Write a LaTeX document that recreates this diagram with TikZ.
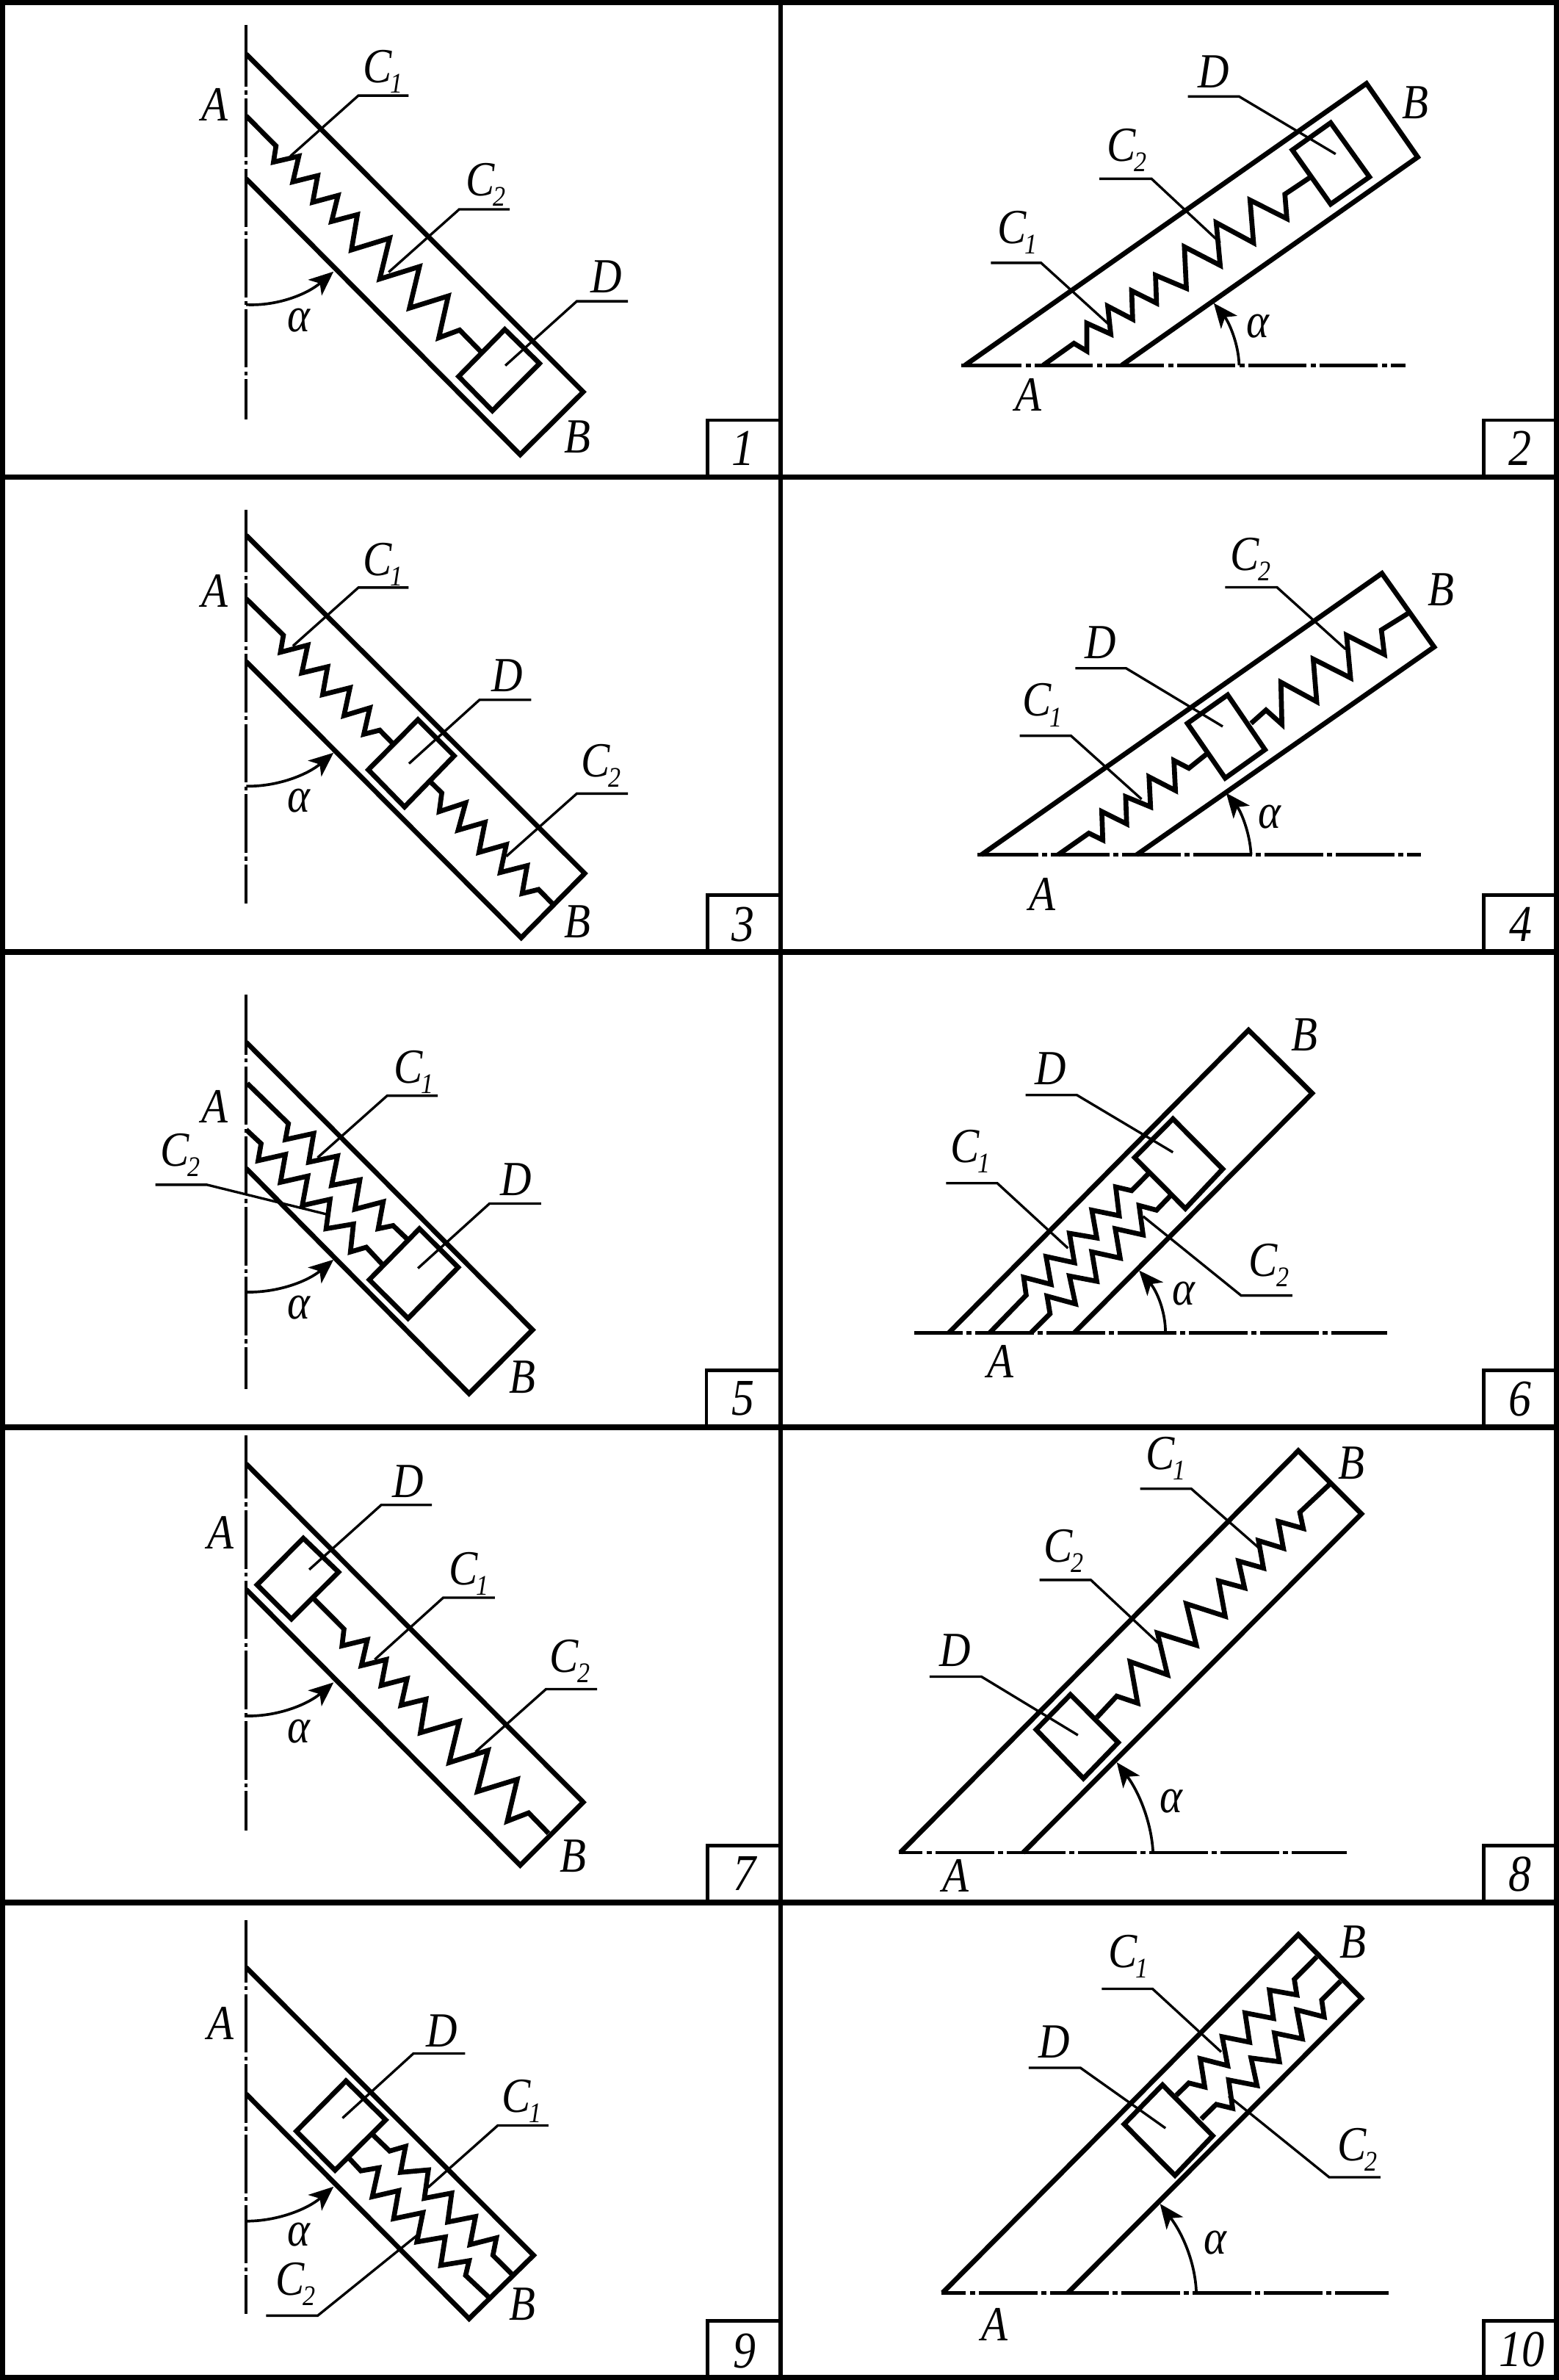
\documentclass[tikz,border=0pt]{standalone}
\usepackage{fontspec}
\setmainfont[FakeStretch=0.88]{Liberation Serif}
\usetikzlibrary{arrows.meta}
\newcommand\subf{\fontsize{11}{11}\selectfont\itshape}
\newcommand\Cs[1]{C\smash{\rlap{\hspace*{-0.6pt}\raisebox{-4pt}{\subf #1}}}}
\newcommand\lab[4]{\node[lab] (#1) at (#2,#3) {#4};}
\newcommand\vcl[3]{\draw[cl] (496,#1) -- (496,#2-12); \draw[cl,cldashv] (496,#2) -- (496,#3);}
\newcommand\hcl[4]{\draw[clh] (#2,#1) -- (#3-8,#1); \draw[clh,cldashh] (#3,#1) -- (#4,#1);}
\newcommand\numbox[3]{\draw[boxl] (#1,#3) |- (1568,#2);}
\tikzset{
  panel/.style n args={4}{shift={(#1 cm,-#2 cm)},x=#3 cm,y=-#4 cm},
  heavy/.style={line width=1.9pt,line join=miter,miter limit=10},
  lead/.style={line width=0.95pt},
  cl/.style={line width=1.05pt},
  clh/.style={line width=1.35pt},
  cldashv/.style={dash pattern=on 1.5pt off 1.5pt on 22.7pt off 1.5pt},
  cldashh/.style={dash pattern=on 2pt off 1.5pt on 22.6pt off 1.5pt},
  frameline/.style={line width=2.1pt},
  boxl/.style={line width=1.3pt},
  arc/.style={line width=1.05pt,-{Stealth[length=9.5pt,width=8pt,inset=2.5pt]}},
  lab/.style={inner sep=0pt,outer sep=0pt,font=\fontsize{19}{19}\selectfont\itshape},
  num/.style={inner sep=0pt,outer sep=0pt,font=\fontsize{20}{20}\selectfont\itshape}
}
\begin{document}
\begin{tikzpicture}
\useasboundingbox (0,0) rectangle (21.23,-32.40);
% ---------- 1
\begin{scope}[panel={0}{0}{0.00676}{0.004209}]
\vcl{80}{293}{1355}
\draw[heavy] (496,175)--(1175,1267)--(1048,1470)--(496,578);
\draw[heavy] (496,375)--(556,472)--(551,524)--(602,505)--(590,588)--(640,568)--(630,654)--(681,632)--(668,716)--(720,694)--(708,808)--(785,770)--(765,902)--(845,862)--(825,996)--(903,957)--(884,1092)--(926,1067)--(968,1136);
\draw[heavy] (1017,1065)--(1087,1175)--(992,1328)--(924,1217)--cycle;
\draw[lead] (823,309)--(722,309)--(585,505);
\draw[lead] (1027,677)--(925,677)--(783,880);
\draw[lead] (1265,974)--(1162,974)--(1018,1182);
\draw[arc] (496,985) .. controls (560,990) and (620,950) .. (672,878);
\lab{p1A}{433}{338}{A}\lab{p1C}{760}{215}{\Cs{1}}\lab{p1Cb}{967}{580}{\Cs{2}}\lab{p1D}{1222}{895}{D}\lab{p1B}{1163}{1413}{B}\lab{p1a}{602}{1035}{α}
\numbox{1425}{1358}{1540}\node[num] (p1n) at (1497,1450) {1};
\end{scope}
% ---------- 2
\begin{scope}[panel={10.60}{0}{0.00678}{0.004209}]
\hcl{1181}{368}{497}{1260}
\draw[heavy] (375,1181)--(1182,270)--(1285,508)--(690,1181);
\draw[heavy] (532,1181)--(594,1110)--(620,1135)--(620,1045)--(668,1080)--(662,990)--(712,1032)--(710,940)--(760,980)--(758,890)--(820,932)--(816,798)--(888,858)--(880,720)--(955,785)--(948,647)--(1022,707)--(1018,628)--(1070,572);
\draw[heavy] (1033,485)--(1110,397)--(1188,572)--(1110,660)--cycle;
\draw[lead] (427,850)--(528,850)--(665,1050);
\draw[lead] (645,578)--(750,578)--(888,785);
\draw[lead] (823,312)--(926,312)--(1120,498);
\draw[arc] (926,1181) .. controls (925,1110) and (905,1040) .. (875,980);
\lab{p2C}{470}{735}{\Cs{1}}\lab{p2Cb}{690}{470}{\Cs{2}}\lab{p2D}{875}{232}{D}\lab{p2B}{1280}{332}{B}\lab{p2A}{502}{1277}{A}\lab{p2a}{963}{1055}{α}
\numbox{1418}{1358}{1540}\node[num] (p2n) at (1490,1450) {2};
\end{scope}
% ---------- 3
\begin{scope}[panel={0}{6.50}{0.00676}{0.004209}]
\vcl{105}{318}{1378}
\draw[heavy] (496,187)--(1178,1280)--(1050,1488)--(496,595);
\draw[heavy] (496,392)--(571,510)--(565,565)--(620,542)--(608,632)--(660,612)--(650,702)--(705,680)--(693,770)--(745,745)--(733,830)--(765,817)--(790,858);
\draw[heavy] (842,783)--(915,900)--(815,1065)--(742,945)--cycle;
\draw[heavy] (868,985)--(890,1020)--(885,1080)--(938,1052)--(923,1140)--(977,1115)--(965,1212)--(1020,1187)--(1008,1277)--(1062,1255)--(1052,1345)--(1085,1332)--(1113,1378);
\draw[lead] (823,356)--(722,356)--(590,545);
\draw[lead] (1070,719)--(966,719)--(824,925);
\draw[lead] (1265,1022)--(1162,1022)--(1020,1225);
\draw[arc] (496,998) .. controls (560,1000) and (620,960) .. (672,890);
\lab{p3C}{760}{265}{\Cs{1}}\lab{p3A}{433}{367}{A}\lab{p3D}{1022}{640}{D}\lab{p3Cb}{1200}{917}{\Cs{2}}\lab{p3B}{1163}{1437}{B}\lab{p3a}{602}{1045}{α}
\numbox{1425}{1350}{1530}\node[num] (p3n) at (1497,1445) {3};
\end{scope}
% ---------- 4
\begin{scope}[panel={10.60}{6.50}{0.00678}{0.004209}]
\hcl{1220}{400}{530}{1292}
\draw[heavy] (408,1220)--(1213,310)--(1318,548)--(720,1220);
\draw[heavy] (562,1220)--(624,1150)--(652,1172)--(650,1080)--(700,1120)--(698,1032)--(748,1065)--(745,968)--(798,1012)--(795,915)--(825,940)--(860,895);
\draw[heavy] (822,795)--(903,703)--(978,880)--(898,972)--cycle;
\draw[heavy] (950,795)--(980,752)--(1012,798)--(1010,662)--(1082,725)--(1075,587)--(1150,648)--(1142,510)--(1218,572)--(1212,493)--(1265,440);
\draw[lead] (485,835)--(588,835)--(730,1040);
\draw[lead] (597,617)--(699,617)--(893,805);
\draw[lead] (898,355)--(1002,355)--(1140,555);
\draw[arc] (950,1220) .. controls (948,1150) and (930,1080) .. (900,1020);
\lab{p4C}{520}{720}{\Cs{1}}\lab{p4D}{648}{533}{D}\lab{p4Cb}{938}{248}{\Cs{2}}\lab{p4B}{1332}{362}{B}\lab{p4A}{530}{1347}{A}\lab{p4a}{987}{1098}{α}
\numbox{1418}{1350}{1530}\node[num] (p4n) at (1492,1445) {4};
\end{scope}
% ---------- 5
\begin{scope}[panel={0}{13.00}{0.00676}{0.004209}]
\vcl{128}{335}{1403}
\draw[heavy] (496,282)--(1073,1212)--(945,1418)--(496,690);
\draw[heavy] (498,415)--(581,545)--(575,597)--(632,577)--(622,670)--(680,650)--(668,745)--(725,727)--(715,822)--(772,798)--(762,885)--(792,875)--(820,918);
\draw[heavy] (496,565)--(526,610)--(520,665)--(575,645)--(565,735)--(620,715)--(609,810)--(665,790)--(657,885)--(712,870)--(706,960)--(738,945)--(770,1000);
\draw[heavy] (845,885)--(923,1010)--(822,1175)--(744,1050)--cycle;
\draw[lead] (882,455)--(780,455)--(640,655);
\draw[lead] (313,743)--(417,743)--(657,838);
\draw[lead] (1090,804)--(986,804)--(842,1013);
\draw[arc] (496,1090) .. controls (560,1092) and (620,1055) .. (672,985);
\lab{p5C}{822}{362}{\Cs{1}}\lab{p5A}{433}{490}{A}\lab{p5Cb}{352}{632}{\Cs{2}}\lab{p5D}{1040}{725}{D}\lab{p5B}{1053}{1365}{B}\lab{p5a}{602}{1140}{α}
\numbox{1423}{1343}{1522}\node[num] (p5n) at (1497,1435) {5};
\end{scope}
% ---------- 6
\begin{scope}[panel={10.60}{13.00}{0.00678}{0.004209}]
\hcl{1221}{273}{378}{1224}
\draw[heavy] (343,1221)--(945,243)--(1073,447)--(595,1221);
\draw[heavy] (425,1221)--(498,1100)--(493,1042)--(548,1065)--(538,975)--(595,995)--(585,900)--(640,915)--(630,825)--(685,843)--(678,750)--(710,762)--(745,705);
\draw[heavy] (508,1221)--(546,1160)--(540,1103)--(597,1128)--(585,1038)--(640,1055)--(630,960)--(687,980)--(677,885)--(733,905)--(725,810)--(760,825)--(790,775);
\draw[heavy] (793,530)--(893,692)--(818,820)--(716,655)--cycle;
\draw[lead] (497,453)--(600,453)--(793,638);
\draw[lead] (337,738)--(440,738)--(582,948);
\draw[lead] (1033,1101)--(930,1101)--(733,845);
\draw[arc] (778,1221) .. controls (778,1150) and (760,1085) .. (725,1020);
\lab{p6B}{1057}{258}{B}\lab{p6D}{547}{367}{D}\lab{p6C}{375}{618}{\Cs{1}}\lab{p6Cb}{975}{988}{\Cs{2}}\lab{p6A}{447}{1315}{A}\lab{p6a}{815}{1095}{α}
\numbox{1418}{1343}{1522}\node[num] (p6n) at (1490,1435) {6};
\end{scope}
% ---------- 7
\begin{scope}[panel={0}{19.50}{0.00676}{0.004145}]
\vcl{10}{230}{1305}
\draw[heavy] (496,103)--(1175,1213)--(1048,1420)--(496,515);
\draw[heavy] (611,347)--(682,458)--(587,612)--(518,500)--cycle;
\draw[heavy] (632,545)--(693,645)--(689,700)--(740,680)--(728,765)--(778,745)--(768,830)--(820,808)--(808,895)--(858,875)--(847,985)--(925,948)--(905,1083)--(983,1043)--(962,1178)--(1042,1138)--(1022,1275)--(1065,1248)--(1105,1315);
\draw[lead] (870,238)--(768,238)--(623,450);
\draw[lead] (997,542)--(893,542)--(755,745);
\draw[lead] (1203,842)--(1100,842)--(958,1048);
\draw[arc] (496,930) .. controls (560,932) and (620,892) .. (672,820);
\lab{p7A}{445}{328}{A}\lab{p7D}{822}{160}{D}\lab{p7C}{933}{447}{\Cs{1}}\lab{p7Cb}{1137}{735}{\Cs{2}}\lab{p7B}{1155}{1390}{B}\lab{p7a}{602}{980}{α}
\numbox{1425}{1355}{1540}\node[num] (p7n) at (1500,1447) {7};
\end{scope}
% ---------- 8
\begin{scope}[panel={10.60}{19.50}{0.00678}{0.004145}]
\hcl{1378}{242}{298}{1142}
\draw[heavy] (245,1378)--(1045,60)--(1172,267)--(492,1378);
\draw[heavy] (587,860)--(683,1017)--(613,1135)--(518,975)--cycle;
\draw[heavy] (640,935)--(680,865)--(722,888)--(707,752)--(782,795)--(762,658)--(840,698)--(820,562)--(898,603)--(885,487)--(937,510)--(925,422)--(975,445)--(965,355)--(1015,380)--(1005,292)--(1055,315)--(1048,262)--(1108,170);
\draw[lead] (727,185)--(830,185)--(968,382);
\draw[lead] (525,484)--(628,484)--(763,690);
\draw[lead] (304,801)--(408,801)--(602,993);
\draw[arc] (753,1378) .. controls (750,1280) and (725,1180) .. (680,1082);
\lab{p8C}{768}{68}{\Cs{1}}\lab{p8B}{1152}{100}{B}\lab{p8Cb}{563}{372}{\Cs{2}}\lab{p8D}{355}{715}{D}\lab{p8A}{357}{1453}{A}\lab{p8a}{790}{1210}{α}
\numbox{1418}{1355}{1540}\node[num] (p8n) at (1490,1450) {8};
\end{scope}
% ---------- 9
\begin{scope}[panel={0}{25.90}{0.00676}{0.004145}]
\vcl{58}{275}{1350}
\draw[heavy] (496,213)--(1075,1157)--(945,1365)--(496,628);
\draw[heavy] (697,585)--(777,713)--(675,878)--(597,750)--cycle;
\draw[heavy] (750,760)--(785,815)--(817,800)--(807,885)--(863,877)--(855,970)--(910,953)--(902,1048)--(958,1030)--(947,1122)--(1000,1100)--(993,1157)--(1032,1220);
\draw[heavy] (703,838)--(727,880)--(763,870)--(750,965)--(803,945)--(793,1037)--(852,1017)--(840,1113)--(897,1097)--(888,1190)--(945,1175)--(938,1223)--(985,1295);
\draw[lead] (937,495)--(833,495)--(690,707);
\draw[lead] (1105,731)--(1003,731)--(862,935);
\draw[lead] (536,1355)--(640,1355)--(840,1092);
\draw[arc] (496,1045) .. controls (560,1045) and (620,1005) .. (672,932);
\lab{p9A}{445}{397}{A}\lab{p9D}{890}{420}{D}\lab{p9C}{1040}{635}{\Cs{1}}\lab{p9a}{602}{1090}{α}\lab{p9Cb}{585}{1235}{\Cs{2}}\lab{p9B}{1053}{1317}{B}
\numbox{1425}{1372}{1558}\node[num] (p9n) at (1500,1470) {9};
\end{scope}
% ---------- 10
\begin{scope}[panel={10.60}{25.90}{0.00678}{0.004145}]
\hcl{1280}{327}{385}{1227}
\draw[heavy] (330,1280)--(1045,105)--(1172,315)--(582,1280);
\draw[heavy] (772,598)--(873,765)--(797,895)--(695,727)--cycle;
\draw[heavy] (800,632)--(825,592)--(857,605)--(848,512)--(903,535)--(892,440)--(947,458)--(938,362)--(995,380)--(987,287)--(1042,303)--(1037,252)--(1082,178);
\draw[heavy] (850,710)--(880,662)--(913,675)--(905,582)--(962,600)--(950,510)--(1007,522)--(997,428)--(1053,447)--(1042,352)--(1097,375)--(1092,320)--(1130,258);
\draw[lead] (650,283)--(752,283)--(890,490);
\draw[lead] (503,542)--(607,542)--(778,740);
\draw[lead] (1210,901)--(1107,901)--(905,635);
\draw[arc] (840,1280) .. controls (838,1180) and (812,1085) .. (767,988);
\lab{p10B}{1155}{130}{B}\lab{p10C}{692}{160}{\Cs{1}}\lab{p10D}{555}{458}{D}\lab{p10Cb}{1153}{795}{\Cs{2}}\lab{p10a}{878}{1115}{α}\lab{p10A}{435}{1385}{A}
\numbox{1418}{1372}{1558}\node[num] (p10n) at (1495,1467) {10};
\end{scope}
% ---------- frame
\draw[frameline] (0.035,-0.035) rectangle (21.20,-32.367);
\draw[frameline,line width=1.7pt] (10.625,-0.035) -- (10.625,-32.367);
\draw[frameline] (0,-6.495) -- (21.23,-6.495);
\draw[frameline] (0,-12.96) -- (21.23,-12.96);
\draw[frameline] (0,-19.43) -- (21.23,-19.43);
\draw[frameline] (0,-25.90) -- (21.23,-25.90);
\end{tikzpicture}
\end{document}
